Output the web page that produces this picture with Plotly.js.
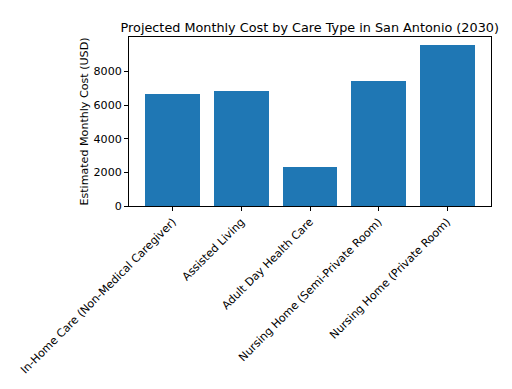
<!DOCTYPE html>
<html><head><meta charset="utf-8">
<script src="https://cdn.plot.ly/plotly-3.0.1.min.js"></script>
<style>html,body{margin:0;padding:0;background:#fff}#c{width:512px;height:389px}</style>
</head><body><div id="c"></div>
<script>
const categories = ["In-Home Care (Non-Medical Caregiver)", "Assisted Living", "Adult Day Health Care", "Nursing Home (Semi-Private Room)", "Nursing Home (Private Room)"];
const costs = [6650, 6830, 2300, 7430, 9550];
const yTicks = [0, 2000, 4000, 6000, 8000];

const font = "DejaVu Sans, sans-serif";
Plotly.newPlot("c", [{
  type: "bar",
  x: categories.map((_, i) => i),
  y: costs,
  width: 0.8,
  marker: {color: "#1f77b4", line: {width: 0}},
  hoverinfo: "skip"
}], {
  width: 512, height: 389,
  margin: {l: 129, r: 21, t: 37, b: 183},
  paper_bgcolor: "#fff", plot_bgcolor: "#fff",
  showlegend: false,
  bargap: 0,
  title: {text: "Projected Monthly Cost by Care Type in San Antonio (2030)", font: {family: font, size: 12.8, color: "#000"}, x: 0.605, xanchor: "center", y: 0.93, yanchor: "middle"},
  xaxis: {
    range: [-0.64, 4.64],
    tickvals: categories.map((_, i) => i), ticktext: categories,
    tickangle: -45,
    tickfont: {family: font, size: 11.1, color: "#000"},
    showline: true, linecolor: "#000", linewidth: 1, mirror: true,
    ticks: "outside", ticklen: 4, tickcolor: "#000",
    showgrid: false, zeroline: false
  },
  yaxis: {
    range: [0, 10050],
    tickvals: yTicks, ticktext: yTicks.map(String),
    tickfont: {family: font, size: 11.1, color: "#000"},
    showline: true, linecolor: "#000", linewidth: 1, mirror: true,
    ticks: "outside", ticklen: 4, tickcolor: "#000",
    showgrid: false, zeroline: false,
    title: {text: "Estimated Monthly Cost (USD)", font: {family: font, size: 11.1, color: "#000"}, standoff: 2}
  }
}, {staticPlot: true, displayModeBar: false});
</script></body></html>
